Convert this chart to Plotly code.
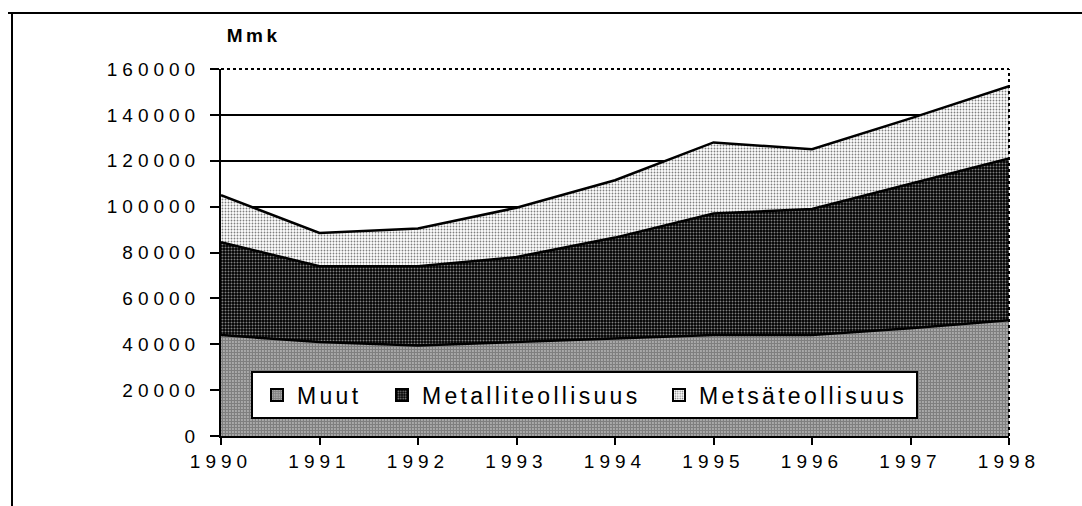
import plotly.graph_objects as go

# 資料 (Mmk)
years = [1990, 1991, 1992, 1993, 1994, 1995, 1996, 1997, 1998]
muut = [44000, 41000, 39500, 41000, 42500, 44000, 44000, 47000, 50500]
metalli = [40500, 33000, 34500, 37000, 44000, 53000, 55000, 63000, 70500]
metsa = [20500, 14500, 16500, 21500, 25000, 31000, 26000, 28500, 31500]
names = ['Muut', 'Metalliteollisuus', 'Metsäteollisuus']
y_ticks = [0, 20000, 40000, 60000, 80000, 100000, 120000, 140000, 160000]

# 圖樣: 灰格, 黑底白點, 白底黑點
patterns = [
    dict(shape='.', fgcolor='black', bgcolor='white', size=3, solidity=0.8),
    dict(shape='.', fgcolor='white', bgcolor='black', size=3, solidity=0.35),
    dict(shape='.', fgcolor='black', bgcolor='white', size=3, solidity=0.3),
]
legends = ['legend', 'legend2', 'legend3']

W, H = 1082, 506
L, R, T, B = 221, 73, 69, 70
pw, ph = W - L - R, H - T - B


def px(x):
    return (x - L) / pw


def py_(y):
    return (H - B - y) / ph


fig = go.Figure()
for name, vals, pat in zip(names, [muut, metalli, metsa], patterns):
    fig.add_trace(go.Scatter(
        x=years, y=vals, name=name, stackgroup='one', mode='lines',
        line=dict(color='black', width=2.5),
        fillcolor=pat['bgcolor'], fillpattern=pat,
        showlegend=False, hoverinfo='skip'))

# 圖例 (方塊)
for name, pat, lg in zip(names, patterns, legends):
    fig.add_trace(go.Bar(
        x=[None], y=[None], name=name, legend=lg,
        marker=dict(color=pat['bgcolor'], pattern=pat,
                    line=dict(color='black', width=2))))

leg_font = dict(family='Liberation Sans, Arial, sans-serif', size=23, color='black')
leg_common = dict(orientation='h', bgcolor='rgba(0,0,0,0)', borderwidth=0,
                  font=leg_font, itemwidth=30, yanchor='middle', y=py_(395),
                  xanchor='left', itemclick=False, itemdoubleclick=False,
                  entrywidth=280, entrywidthmode='pixels')

fig.update_layout(
    width=W, height=H,
    margin=dict(l=L, r=R, t=T, b=B),
    paper_bgcolor='white', plot_bgcolor='white',
    font=dict(family='Liberation Sans, Arial, sans-serif', size=19, color='black'),
    legend=dict(x=px(257), **leg_common),
    legend2=dict(x=px(382), **leg_common),
    legend3=dict(x=px(659), **leg_common),
    xaxis=dict(range=[1990, 1998], tickvals=years, showgrid=False, zeroline=False,
               showline=True, linecolor='black', linewidth=2,
               ticks='outside', ticklen=7, tickwidth=1.5, tickcolor='black'),
    yaxis=dict(range=[0, 160000], tickvals=y_ticks, tickformat='d', showgrid=True,
               gridcolor='black', gridwidth=1.5, zeroline=False,
               showline=True, linecolor='black', linewidth=2,
               ticks='outside', ticklen=9, tickwidth=1.5, tickcolor='black',
               ticklabelstandoff=6),
    annotations=[dict(text='<b>Mmk</b>', xref='paper', yref='paper',
                      x=px(230), y=py_(36), xanchor='left', yanchor='middle',
                      showarrow=False, font=dict(size=19))],
    shapes=[
        # 圖區上緣與右緣 (點線)
        dict(type='line', xref='paper', yref='paper', x0=0, x1=1, y0=1, y1=1,
             line=dict(color='black', width=2, dash='dot'), layer='above'),
        dict(type='line', xref='paper', yref='paper', x0=1, x1=1, y0=0, y1=1,
             line=dict(color='black', width=2, dash='dot'), layer='above'),
        # 圖例方框
        dict(type='rect', xref='paper', yref='paper',
             x0=px(252), x1=px(917), y0=py_(418), y1=py_(372),
             fillcolor='white', line=dict(color='black', width=2), layer='above'),
        # 外框
        dict(type='line', xref='paper', yref='paper', x0=px(12), x1=px(12),
             y0=py_(H + 20), y1=py_(13), line=dict(color='black', width=2)),
        dict(type='line', xref='paper', yref='paper', x0=px(8), x1=px(W + 20),
             y0=py_(13), y1=py_(13), line=dict(color='black', width=2)),
    ],
)

# 去掉 body 邊距, 加字距 (letter-spacing)
js = """
var s = document.createElement('style');
s.textContent = 'body{margin:0;overflow:hidden}'
  + ' .xtick text,.ytick text{letter-spacing:5px}'
  + ' .legendtext,.legend2text,.legend3text{letter-spacing:3.3px}'
  + ' .annotation-text{letter-spacing:3.5px}';
document.head.appendChild(s);
"""
fig.write_html("out.html", post_script=js, config={'displayModeBar': False})
